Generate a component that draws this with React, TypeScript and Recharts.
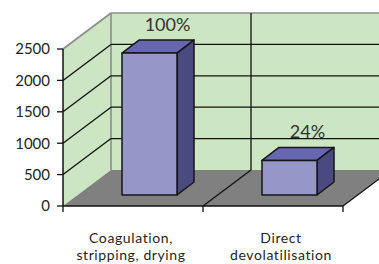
import { BarChart, Bar, XAxis, YAxis, CartesianGrid, ReferenceArea, LabelList } from 'recharts';

const CATEGORIES = ['Coagulation,\nstripping, drying', 'Direct\ndevolatilisation'];
const VALUES = [2260, 550];
const PERCENT_LABELS = ['100%', '24%'];
const Y_TICKS = [0, 500, 1000, 1500, 2000, 2500];

const data = CATEGORIES.map((name, i) => ({ name, value: VALUES[i], pct: PERCENT_LABELS[i] }));

// oblique "3d" offsets
const WALL_DX = 48;
const WALL_DY = 36;
const BAR_DX0 = 16;
const BAR_DY0 = 11;
const BAR_DX1 = 17;
const BAR_DY1 = 13;

const WALL_FILL = '#cce6c3';
const FLOOR_FILL = '#808080';
const EDGE_GRAY = '#8c8c8c';
const FONT = 'Lato, "Open Sans", sans-serif';

const TOP = 49;
const BOTTOM = 206;

function WallsShape(props: any) {
  const { x, y, width, height } = props;
  const b = y + height;
  const mid = x + width / 2;
  const farX = x + width + WALL_DX + 10;
  return (
    <g>
      {/* left wall */}
      <polygon
        points={`${x},${b} ${x},${y} ${x + WALL_DX},${y - WALL_DY} ${x + WALL_DX},${b - WALL_DY}`}
        fill={WALL_FILL}
      />
      {/* back wall */}
      <polygon
        points={`${x + WALL_DX},${y - WALL_DY} ${farX},${y - WALL_DY} ${farX},${b - WALL_DY} ${x + WALL_DX},${b - WALL_DY}`}
        fill={WALL_FILL}
      />
      <line x1={x} y1={y} x2={x + WALL_DX} y2={y - WALL_DY} stroke={EDGE_GRAY} strokeWidth={1.6} />
      <line x1={x + WALL_DX} y1={y - WALL_DY} x2={farX} y2={y - WALL_DY} stroke={EDGE_GRAY} strokeWidth={1.6} />
      <line x1={x + WALL_DX} y1={y - WALL_DY} x2={x + WALL_DX} y2={b - WALL_DY} stroke={EDGE_GRAY} strokeWidth={1.6} />
      <line x1={mid + WALL_DX} y1={y - WALL_DY} x2={mid + WALL_DX} y2={b - WALL_DY} stroke="#111" strokeWidth={1.3} />
      {/* floor */}
      <polygon
        points={`${x},${b} ${x + width},${b} ${x + width + WALL_DX},${b - WALL_DY} ${x + WALL_DX},${b - WALL_DY}`}
        fill={FLOOR_FILL}
      />
      <line x1={mid} y1={b} x2={mid + WALL_DX} y2={b - WALL_DY} stroke="#111" strokeWidth={1.3} />
      <line x1={x + width} y1={b} x2={x + width + WALL_DX} y2={b - WALL_DY} stroke="#111" strokeWidth={1.3} />
      {/* category boundary ticks */}
      {[x, mid, x + width].map((tx, i) => (
        <line key={i} x1={tx} y1={b} x2={tx} y2={b + 6} stroke="#111" strokeWidth={1.3} />
      ))}
    </g>
  );
}

function GridLine(props: any) {
  const { x1, x2, y1 } = props;
  const top = props.y !== undefined ? props.y : TOP;
  const bottom = props.height !== undefined ? top + props.height : BOTTOM;
  if (Math.abs(y1 - top) < 1 || Math.abs(y1 - bottom) < 1) return <g />;
  return (
    <g>
      <line x1={x1} y1={y1} x2={x1 + WALL_DX} y2={y1 - WALL_DY} stroke="#111" strokeWidth={1.3} />
      <line x1={x1 + WALL_DX} y1={y1 - WALL_DY} x2={x2 + WALL_DX + 10} y2={y1 - WALL_DY} stroke="#111" strokeWidth={1.3} />
    </g>
  );
}

function Bar3D(props: any) {
  const { x, y, width, height } = props;
  if (width == null || height == null) return null;
  const fx = x + BAR_DX0;
  const fy = y - BAR_DY0;
  const bx = fx + BAR_DX1;
  const by = fy - BAR_DY1;
  return (
    <g stroke="#161616" strokeWidth={1.5} strokeLinejoin="round">
      <polygon points={`${fx},${fy} ${fx + width},${fy} ${bx + width},${by} ${bx},${by}`} fill="#6767b0" />
      <polygon
        points={`${fx + width},${fy} ${bx + width},${by} ${bx + width},${by + height} ${fx + width},${fy + height}`}
        fill="#4a4a80"
      />
      <rect x={fx} y={fy} width={width} height={height} fill="#9696c8" />
    </g>
  );
}

function PctLabel(props: any) {
  const { x, y, width, index } = props;
  const cx = x + BAR_DX0 + BAR_DX1 + width / 2 + 1;
  const cy = y - BAR_DY0 - BAR_DY1 - 9;
  return (
    <text x={cx} y={cy} textAnchor="middle" fontSize={18} fontFamily={FONT} fill="#333">
      {data[index].pct}
    </text>
  );
}

function CategoryTick(props: any) {
  const { x, y, payload, index } = props;
  const lines = String(payload.value).split('\n');
  const i0 = index !== undefined ? index : payload.index;
  const cx = x + (i0 === 1 ? 8 : -2);
  return (
    <text x={cx} y={y} textAnchor="middle" fontSize={14} letterSpacing={0.6} fontFamily={FONT} fill="#231f20">
      {lines.map((l, i) => (
        <tspan key={i} x={cx} dy={i === 0 ? 37 : 17}>
          {l}
        </tspan>
      ))}
    </text>
  );
}

export default function App() {
  return (
    <div style={{ position: 'absolute', left: 0, top: 0, background: '#fff' }}>
      <BarChart width={379} height={264} data={data} margin={{ top: TOP, right: 36, bottom: 0, left: 8 }}>
        <ReferenceArea y1={0} y2={2500} shape={WallsShape} zIndex={-200} ifOverflow="visible" />
        <CartesianGrid vertical={false} horizontal={GridLine} zIndex={-100} />
        <XAxis
          dataKey="name"
          height={58}
          tick={CategoryTick}
          tickLine={false}
          tickSize={0}
          tickMargin={0}
          axisLine={{ stroke: '#111', strokeWidth: 1.5 }}
          interval={0}
        />
        <YAxis
          width={55}
          domain={[0, 2500]}
          ticks={Y_TICKS}
          interval={0}
          tickSize={6}
          tickMargin={7}
          tick={{ fontSize: 15, fontFamily: FONT, fill: '#231f20' }}
          tickLine={{ stroke: '#111', strokeWidth: 1.3 }}
          axisLine={{ stroke: '#111', strokeWidth: 1.5 }}
        />
        <Bar dataKey="value" barSize={55} shape={Bar3D} isAnimationActive={false}>
          <LabelList dataKey="pct" content={PctLabel} />
        </Bar>
      </BarChart>
    </div>
  );
}
